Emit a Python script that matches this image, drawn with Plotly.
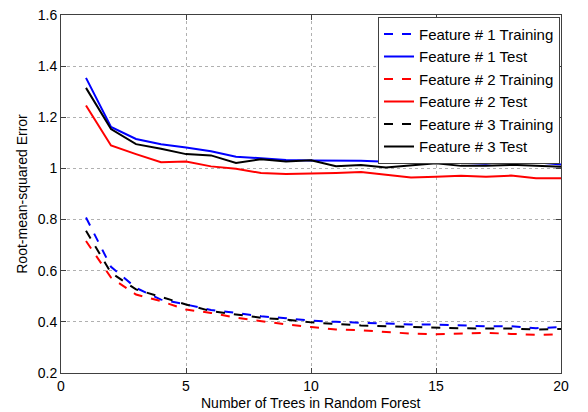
import plotly.graph_objects as go

trees = list(range(1, 21))

f1_train = [0.808, 0.615, 0.533, 0.487, 0.468, 0.446, 0.435, 0.422, 0.414, 0.405,
            0.400, 0.396, 0.394, 0.390, 0.389, 0.386, 0.383, 0.383, 0.375, 0.380]
f1_test = [1.354, 1.162, 1.115, 1.095, 1.082, 1.067, 1.046, 1.040, 1.033, 1.031,
           1.030, 1.030, 1.026, 1.022, 1.030, 1.022, 1.018, 1.031, 1.024, 1.015]
f2_train = [0.716, 0.573, 0.507, 0.481, 0.448, 0.435, 0.416, 0.403, 0.390, 0.380,
            0.370, 0.367, 0.360, 0.354, 0.352, 0.354, 0.357, 0.353, 0.349, 0.352]
f2_test = [1.246, 1.090, 1.056, 1.024, 1.027, 1.008, 0.999, 0.982, 0.978, 0.979,
           0.982, 0.986, 0.975, 0.965, 0.967, 0.971, 0.967, 0.972, 0.962, 0.962]
f3_train = [0.756, 0.592, 0.527, 0.497, 0.468, 0.442, 0.429, 0.416, 0.409, 0.398,
            0.392, 0.386, 0.383, 0.380, 0.379, 0.375, 0.374, 0.374, 0.370, 0.372]
f3_test = [1.315, 1.154, 1.095, 1.077, 1.056, 1.051, 1.021, 1.036, 1.027, 1.032,
           1.009, 1.013, 1.004, 1.012, 1.020, 1.010, 1.010, 1.014, 1.010, 1.007]

series = [
    ("Feature # 1 Training", f1_train, "#0000ff", "dash"),
    ("Feature # 1 Test", f1_test, "#0000ff", "solid"),
    ("Feature # 2 Training", f2_train, "#ff0000", "dash"),
    ("Feature # 2 Test", f2_test, "#ff0000", "solid"),
    ("Feature # 3 Training", f3_train, "#000000", "dash"),
    ("Feature # 3 Test", f3_test, "#000000", "solid"),
]

fig = go.Figure()
for name, vals, color, dash in series:
    fig.add_trace(go.Scatter(x=trees, y=vals, mode="lines", name=name,
                             line=dict(color=color, width=2, dash=dash)))

axis_common = dict(
    showline=True, linecolor="#404040", linewidth=1, mirror="allticks",
    ticks="inside", ticklen=5, tickcolor="#404040",
    showgrid=True, gridcolor="#b0b0b0", gridwidth=1, griddash="dot",
    zeroline=False, tickfont=dict(size=14, color="#000000"), automargin=False,
)

fig.update_xaxes(range=[0, 20], tickvals=[0, 5, 10, 15, 20], **axis_common)
fig.update_yaxes(range=[0.2, 1.6], tickvals=[0.2, 0.4, 0.6, 0.8, 1.0, 1.2, 1.4, 1.6],
                 ticktext=["0.2", "0.4", "0.6", "0.8", "1", "1.2", "1.4", "1.6"],
                 title=dict(text="Root-mean-squared Error",
                            font=dict(size=14, color="#000000"), standoff=6),
                 **axis_common)

fig.add_annotation(text="Number of Trees in Random Forest", xref="paper", yref="paper",
                   x=0.5, y=0, xanchor="center", yanchor="top", yshift=-20,
                   showarrow=False, font=dict(size=14, color="#000000"))

fig.update_layout(
    width=588, height=412,
    margin=dict(l=61, r=27, t=15, b=39),
    paper_bgcolor="white", plot_bgcolor="white",
    font=dict(family="Liberation Sans, Arial, sans-serif", size=14, color="#000000"),
    legend=dict(x=0.998, xanchor="right", y=0.995, yanchor="top",
                bgcolor="white", bordercolor="#404040", borderwidth=1,
                font=dict(size=15), tracegroupgap=0, itemwidth=30),
)

fig.write_html("out.html")
